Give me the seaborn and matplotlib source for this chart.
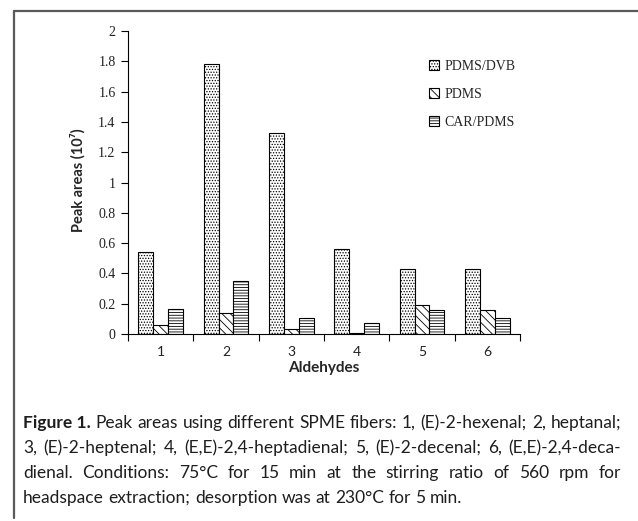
import numpy as np
import pandas as pd
import matplotlib
matplotlib.use("Agg")
import matplotlib.pyplot as plt
import matplotlib.patches as mpatches
from matplotlib.lines import Line2D
from matplotlib import font_manager as fm
import seaborn as sns

# ---------------- data ----------------
aldehydes = ["1", "2", "3", "4", "5", "6"]
fibers = ["PDMS/DVB", "PDMS", "CAR/PDMS"]
pdms_dvb = [0.54, 1.78, 1.33, 0.56, 0.43, 0.43]
pdms = [0.06, 0.14, 0.03, 0.005, 0.19, 0.16]
car_pdms = [0.165, 0.35, 0.105, 0.07, 0.16, 0.105]
yticks = [0, 0.2, 0.4, 0.6, 0.8, 1.0, 1.2, 1.4, 1.6, 1.8, 2.0]
ytick_labels = ["0", "0.2", "0.4", "0.6", "0.8", "1", "1.2", "1.4", "1.6", "1.8", "2"]

caption_lines = [
    [("Figure 1.", "bold")] + [(w, "normal") for w in
        "Peak areas using different SPME fibers: 1, (E)-2-hexenal; 2, heptanal;".split()],
    [(w, "normal") for w in
        "3, (E)-2-heptenal; 4, (E,E)-2,4-heptadienal; 5, (E)-2-decenal; 6, (E,E)-2,4-deca-".split()],
    [(w, "normal") for w in
        "dienal. Conditions: 75°C for 15 min at the stirring ratio of 560 rpm for".split()],
    [(w, "normal") for w in
        "headspace extraction; desorption was at 230°C for 5 min.".split()],
]

df = pd.DataFrame({
    "Aldehyde": aldehydes * 3,
    "Fiber": [f for f in fibers for _ in aldehydes],
    "Area": pdms_dvb + pdms + car_pdms,
})

# ---------------- figure ----------------
sns.set_theme(style="white")
plt.rcParams["hatch.linewidth"] = 0.6

W, H = 638, 521
fig = plt.figure(figsize=(W / 100, H / 100), dpi=100)
ax = fig.add_axes([128 / W, 1 - 334 / H, (520 - 128) / W, (334 - 31) / H])

sns.barplot(data=df, x="Aldehyde", y="Area", hue="Fiber",
            order=aldehydes, hue_order=fibers,
            palette=["white"] * 3, edgecolor="black", linewidth=0.8,
            width=0.68, legend=False, ax=ax, errorbar=None)

hatches = ["......", "\\\\\\\\", "------"]
for cont, h in zip(ax.containers, hatches):
    for p in cont:
        p.set_hatch(h)
        p.set_facecolor("white")
        p.set_edgecolor("black")

ax.set_xlim(-0.5, 5.5)
ax.set_ylim(0, 2.0)
ax.set_yticks(yticks)
ax.set_yticklabels(ytick_labels, fontfamily="Liberation Serif", fontsize=10)
ax.set_xticks(range(len(aldehydes)))
ax.set_xticklabels(aldehydes, fontfamily="Lato", fontsize=10)
ax.set_xticks(np.arange(-0.5, 6.0, 1.0), minor=True)
ax.tick_params(axis="x", which="major", length=0, pad=9, colors="#222222")
ax.tick_params(axis="x", which="minor", length=5, width=0.8, direction="out", color="black")
ax.tick_params(axis="y", length=5, width=0.8, direction="out", color="black", pad=4,
               labelcolor="#222222")
ax.xaxis.set_ticks_position("bottom")
ax.yaxis.set_ticks_position("left")
for s in ["top", "right"]:
    ax.spines[s].set_visible(False)
for s in ["left", "bottom"]:
    ax.spines[s].set_color("black")
    ax.spines[s].set_linewidth(0.8)

ax.set_xlabel("Aldehydes", fontfamily="Lato", fontweight="bold", fontsize=11, labelpad=2)
ax.set_ylabel("")
fig.text(78 / W, 1 - 180 / H, "Peak areas (10⁷)", rotation=90, ha="center", va="center",
         family=["Lato", "DejaVu Sans"], fontweight="bold", fontsize=10.5)

handles = [mpatches.Patch(facecolor="white", edgecolor="black", hatch=h, linewidth=0.8)
           for h in hatches]
fig.legend(handles, fibers, loc="upper left", bbox_to_anchor=(429 / W, 1 - 60 / H),
           frameon=False, prop={"family": "Liberation Serif", "size": 10},
           handlelength=0.75, handleheight=0.75, handletextpad=0.35,
           labelspacing=1.08, borderpad=0, borderaxespad=0)

# ---------------- frame lines ----------------
fig.add_artist(Line2D([14 / W, 1.0], [1 - 11 / H, 1 - 11 / H], color="#5a5a5a", lw=1.6,
                      transform=fig.transFigure))
fig.add_artist(Line2D([14 / W, 14 / W], [1 - 11 / H, 1 - 518 / H], color="#5a5a5a", lw=1.6,
                      transform=fig.transFigure))

# ---------------- caption ----------------
names = {f.name for f in fm.fontManager.ttflist}
cap_font = "Liberation Sans Narrow" if "Liberation Sans Narrow" in names else "Lato"
cap_size = 13.0 if cap_font == "Liberation Sans Narrow" else 12.5
renderer = fig.canvas.get_renderer()
left_px, right_px = 23, 621
avail = right_px - left_px
min_gap_frac = 0.6


def measure(s, weight, size):
    t = fig.text(0, 0, s, fontsize=size, family=cap_font, fontweight=weight)
    w = t.get_window_extent(renderer).width
    t.remove()
    return w


def natural(line, size):
    ws = [measure(w, wt, size) for w, wt in line]
    sp = measure("a a", "normal", size) - measure("aa", "normal", size)
    return ws, sp


for _ in range(10):
    worst = 0
    for line in caption_lines[:3]:
        ws, sp = natural(line, cap_size)
        worst = max(worst, sum(ws) + min_gap_frac * sp * (len(ws) - 1))
    if worst <= avail:
        break
    cap_size *= avail / worst * 0.995

baselines = [428, 453, 478, 503]
for i, line in enumerate(caption_lines):
    ws, sp = natural(line, cap_size)
    if i < 3:
        gap = (avail - sum(ws)) / (len(ws) - 1)
    else:
        gap = sp
    x = left_px
    for (w, wt), wd in zip(line, ws):
        fig.text(x / W, 1 - baselines[i] / H, w, fontsize=cap_size, family=cap_font,
                 fontweight=wt, va="baseline", ha="left", color="#1e1e1e")
        x += wd + gap

fig.savefig("out.png", dpi=100)
